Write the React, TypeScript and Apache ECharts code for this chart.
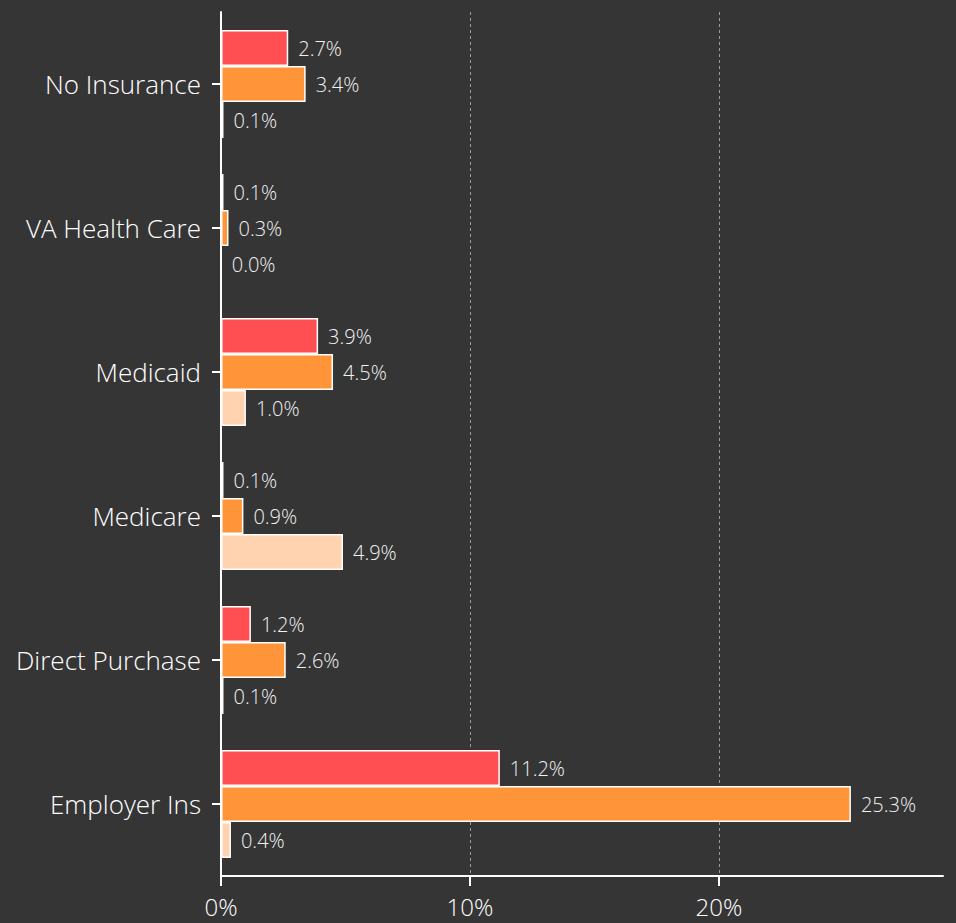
import React, { useEffect, useRef } from "react";
import * as echarts from "echarts";

const categories = ["Employer Ins", "Direct Purchase", "Medicare", "Medicaid", "VA Health Care", "No Insurance"];
const seriesRed = [11.2, 1.2, 0.1, 3.9, 0.1, 2.7];
const seriesOrange = [25.3, 2.6, 0.9, 4.5, 0.3, 3.4];
const seriesPeach = [0.4, 0.1, 4.9, 1.0, 0.0, 0.1];
const xTicks = [0, 10, 20];

const FONT = "'Open Sans', 'Noto Sans', sans-serif";

export default function App() {
  const ref = useRef<HTMLDivElement>(null);
  useEffect(() => {
    document.body.style.margin = "0";
    const chart = echarts.init(ref.current!, null, { renderer: "svg" });
    const mk = (name: string, data: number[], color: string) => ({
      name,
      type: "bar",
      data,
      barGap: "0%",
      barCategoryGap: "25%",
      itemStyle: { color, borderColor: "#ffffff", borderWidth: 1.5 },
      label: {
        show: true,
        position: "right",
        distance: 10,
        formatter: (p: any) => p.value.toFixed(1) + "%",
        color: "#f2f2f2",
        fontSize: 20,
        fontWeight: 300,
        fontFamily: FONT,
      },
    });
    chart.setOption({
      animation: false,
      backgroundColor: "#353535",
      grid: { left: 221, right: 13, top: 12, bottom: 47, containLabel: false },
      xAxis: {
        type: "value",
        min: 0,
        max: 29,
        interval: 10,
        axisLine: { show: true, lineStyle: { color: "#ffffff", width: 2 } },
        axisTick: { show: true, length: 10, lineStyle: { color: "#ffffff", width: 2 } },
        axisLabel: {
          color: "#ffffff",
          fontSize: 24,
          lineHeight: 24,
          fontWeight: 300,
          fontFamily: FONT,
          margin: 18,
          showMaxLabel: false,
          formatter: (v: number) => (xTicks.includes(v) ? v + "%" : ""),
        },
        splitLine: {
          show: true,
          showMaxLine: false,
          lineStyle: { color: "#9a9a9a", type: [3, 3], width: 1 },
        },
      },
      yAxis: {
        type: "category",
        data: categories,
        axisLine: { show: true, lineStyle: { color: "#ffffff", width: 2 } },
        axisTick: { show: true, alignWithLabel: true, length: 9, lineStyle: { color: "#ffffff", width: 2 } },
        axisLabel: { color: "#ffffff", fontSize: 26, fontWeight: 300, fontFamily: FONT, margin: 20 },
        splitLine: { show: false },
      },
      series: [
        mk("Red", seriesRed, "#ff4f52"),
        mk("Orange", seriesOrange, "#ff9538"),
        mk("Peach", seriesPeach, "#ffd2b0"),
      ],
    });
    return () => chart.dispose();
  }, []);
  return <div ref={ref} style={{ width: 956, height: 923 }} />;
}
